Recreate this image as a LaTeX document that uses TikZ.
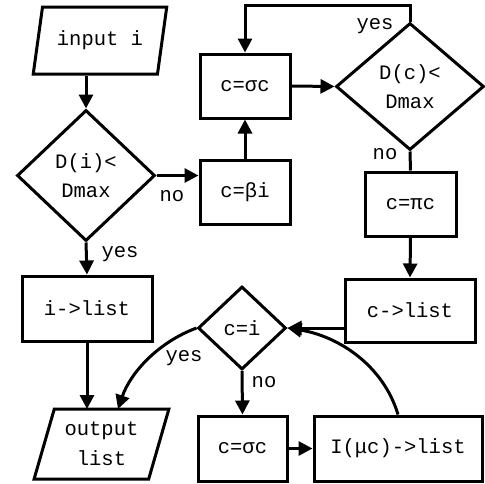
\documentclass[tikz,border=0pt]{standalone}
\usepackage{fontspec}
\setmainfont{Liberation Mono}
\usetikzlibrary{shapes.geometric,arrows.meta}
\begin{document}
\begin{tikzpicture}[x=1pt,y=-1pt,
  every node/.style={font=\fontsize{20.5}{29.5}\selectfont},
  box/.style={draw, line width=3pt, inner sep=0pt, align=center},
  dia/.style={draw, diamond, line width=3pt, inner sep=0pt, align=center},
  para/.style={draw, trapezium, trapezium left angle=70, trapezium right angle=110, trapezium stretches=true, line width=3pt, inner sep=0pt, align=center},
  arr/.style={-{Triangle[length=14pt,width=14pt]}, line width=3pt},
  plain/.style={line width=3pt},
  lbl/.style={inner sep=0pt}]
\useasboundingbox (0,0) rectangle (485,483);
\node[para, minimum width=135, minimum height=67] (in) at (100,40.5) {input i};
\node[dia, minimum width=138, minimum height=131] (d1) at (86,175.5) {D(i)<\\Dmax};
\node[box, minimum width=90, minimum height=64] (beta) at (245,192) {c=βi};
\node[box, minimum width=90, minimum height=64] (sig1) at (245,86) {c=σc};
\node[dia, minimum width=148, minimum height=127] (d2) at (410,86.5) {D(c)<\\Dmax};
\node[box, minimum width=91, minimum height=64] (pic) at (410.5,204) {c=πc};
\node[box, minimum width=130, minimum height=63] (clist) at (410,310.5) {c->list};
\node[dia, minimum width=88, minimum height=83] (d3) at (242,328) {c=i};
\node[box, minimum width=130, minimum height=65] (ilist) at (87,308.5) {i->list};
\node[para, minimum width=135, minimum height=70] (out) at (101.5,444) {output\\list};
\node[box, minimum width=89, minimum height=65] (sig2) at (242.5,448.5) {c=σc};
\node[box, minimum width=168, minimum height=65] (imu) at (398,448.5) {I(μc)->list};
\coordinate (outin) at (118,409);
\node[lbl] (l1) at (120,254) {yes};
\node[lbl] (l2) at (172,196) {no};
\node[lbl] (l3) at (375,26) {yes};
\node[lbl] (l4) at (385,154) {no};
\node[lbl] (l5) at (184,358) {yes};
\node[lbl] (l6) at (264,382) {no};
\draw[arr] (in.south -| d1.north) -- (d1.north);
\draw[arr] (d1.south) -- (ilist.north);
\draw[arr] (ilist.south) -- (ilist.south |- outin);
\draw[arr] (d1.east) -- (d1.east -| beta.west);
\draw[arr] (beta.north) -- (sig1.south);
\draw[arr] (sig1.east) -- (d2.west);
\draw[arr] (d2.north) -- ++(0,-16) -| (sig1.north);
\draw[plain] (d2.south) -- (pic.north);
\draw[arr] (pic.south) -- (clist.north);
\draw[arr] (d3.east -| clist.west) -- (d3.east);
\draw[arr] (d3.west) .. controls +(-40,15) and +(12,-35) .. (outin);
\draw[arr] (d3.south) -- (sig2.north);
\draw[arr] (sig2.east) -- (imu.west);
\draw[arr] (imu.north) .. controls +(-15,-50) and +(50,8) .. (d3.east);
\end{tikzpicture}
\end{document}
